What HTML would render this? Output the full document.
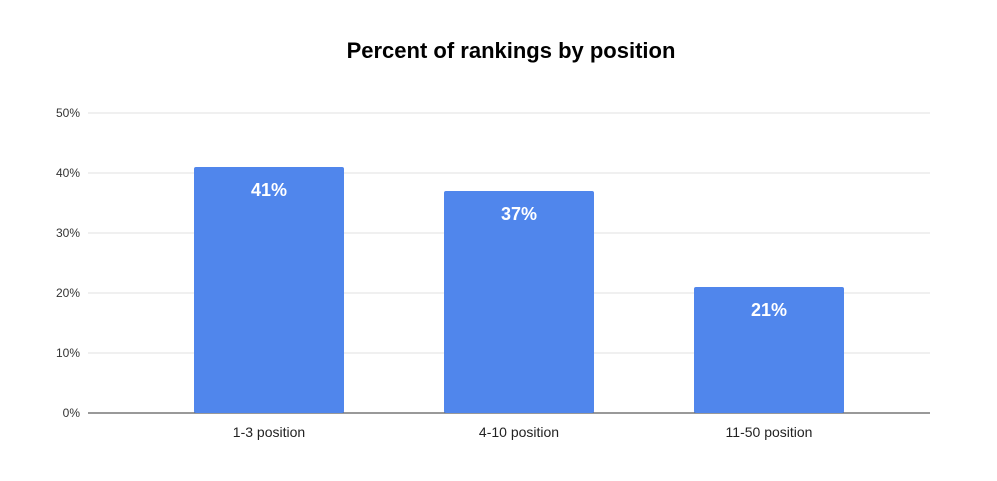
<!DOCTYPE html>
<html><head><meta charset="utf-8"><style>
body{margin:0;background:#fff;font-family:"Liberation Sans",sans-serif}
</style></head><body>
<svg id="chart" width="997" height="476" xmlns="http://www.w3.org/2000/svg">
<text x="511" y="58" text-anchor="middle" font-size="22" font-weight="bold" fill="#000">Percent of rankings by position</text>
<g id="grid"></g><g id="bars"></g><g id="labels"></g>
</svg>
<script>
const categories=["1-3 position","4-10 position","11-50 position"];
const values=[41,37,21];
const ticks=[0,10,20,30,40,50];
const svg=document.getElementById('chart');
const NS="http://www.w3.org/2000/svg";
const x0=144,band=250,barW=150,y0=413,pxPer=6;
const y=v=>y0-v*pxPer;
const xc=i=>x0+band*i+band/2;
function mk(t,a,p){const e=document.createElementNS(NS,t);for(const k in a)e.setAttribute(k,a[k]);p.appendChild(e);return e;}
const g=document.getElementById('grid');
ticks.forEach(t=>{
 const l=mk('line',{x1:88,x2:930,y1:y(t),y2:y(t),stroke:t===0?'#333':'#e0e0e0','stroke-width':1},g);
 
 
 const tx=mk('text',{x:80,y:y(t)+4,'text-anchor':'end','font-size':12,fill:'#333'},g);
 tx.textContent=t+'%';
 
 
});
const b=document.getElementById('bars'),lb=document.getElementById('labels');
values.forEach((v,i)=>{
 const r=mk('rect',{x:xc(i)-barW/2,y:y(v),width:barW,height:y0-y(v),rx:2,fill:'#5086ec'},b);
 
 
 const t=mk('text',{x:xc(i),y:y(v)+29,'text-anchor':'middle','font-size':18,'font-weight':'bold',fill:'#fff'},lb);
 t.textContent=v+'%';
 
 
 const c=mk('text',{x:xc(i),y:437,'text-anchor':'middle','font-size':14,fill:'#222'},lb);
 c.textContent=categories[i];
 
 
});
</script>
</body></html>
